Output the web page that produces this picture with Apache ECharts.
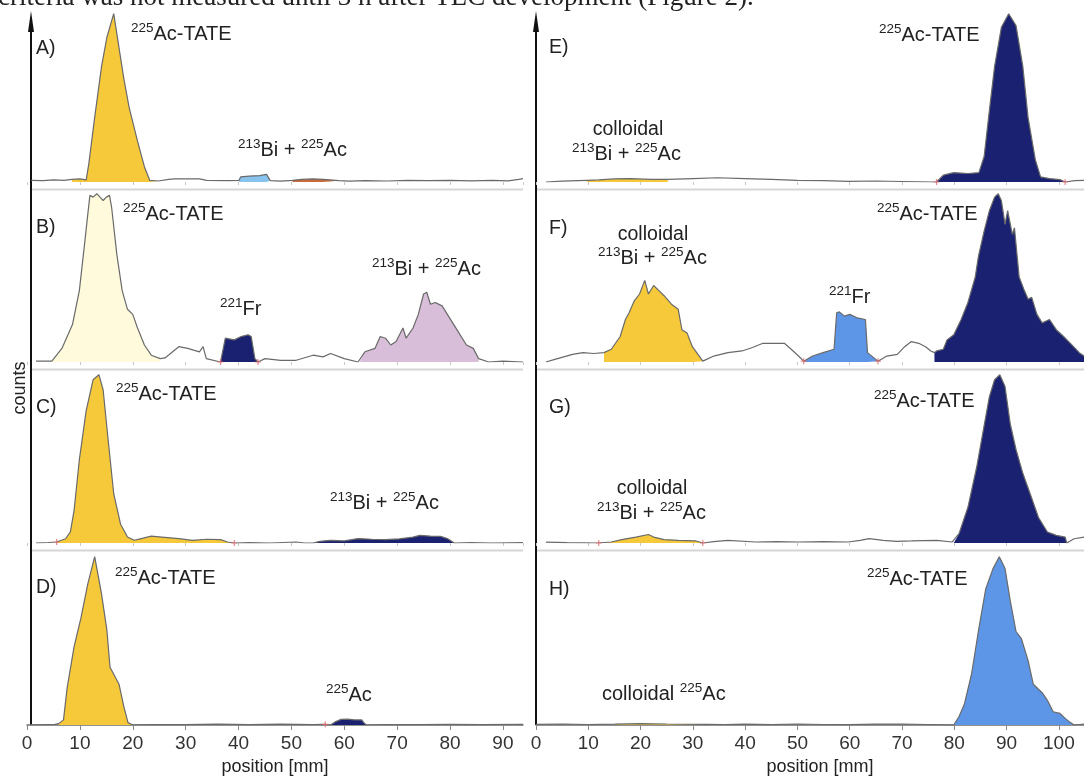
<!DOCTYPE html>
<html>
<head>
<meta charset="utf-8">
<script src="https://cdn.jsdelivr.net/npm/echarts@6.0.0/dist/echarts.min.js"></script>
<style>
html, body { margin: 0; padding: 0; background: #fff; }
#chart { width: 1084px; height: 777px; }
</style>
</head>
<body>
<div id="chart"></div>
<script>
// radio-TLC traces: [position mm, counts (normalised, tallest peak ~ 99)]
var traceA = [[0.8,1],[3,0.8],[5,1.2],[7,1],[8.5,1.5],[10,1.8],[11.2,1.2],[11.7,11],[12.8,38],[14.1,68],[15.1,85],[16.4,99],[17.3,81],[18.3,61],[19.3,44],[20.9,24],[22.2,9],[23.2,1],[24.8,0.6],[26.8,1.5],[28,1.8],[32.6,1.8],[34,1],[38,0.8],[40.1,1],[40.4,3],[42,3.5],[44,3.8],[45.3,4.5],[46,0.8],[48,0.5],[50.2,1],[52,1.5],[54,1.8],[56,1.6],[59,0.8],[61,0.5],[64,0.8],[68,0.6],[72,1],[76,0.8],[80,0.9],[84,0.7],[88,1],[91,0.7],[93,1.5],[93.8,2]];
var traceB = [[1.7,0.5],[4.7,0.5],[6.6,8],[8.6,22],[9.9,42],[10.8,67],[11.5,87],[11.9,98],[12.5,97],[13.2,99],[13.8,97],[14.4,95],[15,97],[15.6,98],[16,91],[17,63],[18,42],[19,31],[20,28],[20.9,20],[22.2,10],[23.5,4],[25.2,2],[26.1,2.4],[28.7,9],[30.4,8],[32.6,6],[33.3,9],[33.9,2],[36.6,0],[37.5,14],[39.2,13],[40.5,15],[41.8,16],[42.4,15],[43.1,2],[43.7,0],[45,2],[48,1],[50.9,1],[54.1,4],[56,3],[57.4,5],[60,2],[62.6,0],[62.9,0],[63.9,6],[65.8,8],[66.8,15],[67.8,14],[68.8,10],[69.8,12],[71.1,20],[71.7,14],[73,20],[74,28],[75,40],[75.6,41],[76.3,34],[77.2,35],[78.5,33],[79.5,28],[81.5,18],[83.1,10],[84.4,8],[85.4,2],[87.3,0],[90,0.5],[93.8,0]];
var traceC = [[1.7,0],[4,0.3],[5.6,0.6],[7.3,2.5],[8.2,6.5],[8.9,19],[9.9,49],[11.2,78],[12.5,96],[13.6,99],[14.4,90],[15.4,59],[16.4,29],[17.7,11],[19,3.5],[20.3,1.6],[21.6,2.6],[23.5,4],[25.5,3.5],[28.7,2.6],[31.3,1.6],[34,2.2],[36.6,2],[37.9,0.6],[39.2,0],[42,0.2],[46,0],[50.9,0.6],[52.5,0],[54.1,0],[55.4,1],[57.4,1.6],[60,1.2],[62.6,2.6],[65.2,2.2],[67.8,2],[70.4,2.4],[73,3.5],[74.3,4.5],[76.3,4],[78.2,3.9],[79.5,2.6],[80.8,0],[84,0.3],[88,0],[93.8,0.2]];
var traceD = [[0.7,0],[5.3,0.4],[6,0.8],[6.9,3],[7.6,22],[8.9,46],[10.2,63],[11.5,83],[12.8,99],[14.1,77],[15.1,56],[15.7,34],[17.4,24],[18.3,11],[19.1,1.4],[20,0],[24,0.3],[30,0.2],[36,0.5],[42,0.2],[48,0.5],[54,0.3],[56.4,0.4],[57.4,0],[58.4,2],[59.4,3.3],[60.6,3.5],[61.9,3],[63.3,3],[63.8,1],[64.2,0],[68,0.3],[74,0.2],[80,0.4],[86,0.2],[93.8,0.4]];
var traceE = [[1.9,0],[5,0.5],[9.7,1],[12,1.2],[15,1.8],[18,2],[22,1.5],[25.2,1.5],[30,2],[34.7,2.5],[40,2],[45,1.5],[50,1],[55,0.8],[59.7,0.4],[65,0.6],[70,0.3],[75.9,0],[76.6,0],[77.9,4],[79.9,5.5],[82.6,5],[84.7,5.5],[85.7,15],[86.7,42],[87.7,68],[89,91],[90.4,99],[91.8,92],[93.1,68],[94.1,38],[95.5,13],[96.5,3],[98.2,2],[100.2,1.4],[101.2,0],[103,0.8],[104.8,1]];
var traceF = [[1.9,0],[3.6,1.5],[7,4.5],[9,5.5],[11,5],[13,5.5],[14.4,7.5],[16.1,15],[17.1,25],[17.8,29],[18.8,36],[19.8,40],[20.8,48],[21.5,40],[22.5,45],[23.5,42],[24.5,39],[25.9,34],[27.2,31],[27.9,19],[28.9,17],[29.9,9],[31.9,0.5],[34,3.5],[36.7,5.5],[39.4,6.5],[41.4,8.5],[43.4,11],[45.5,11],[47.5,11],[48.8,7.5],[50.2,3.5],[51.2,0.5],[52.9,3.5],[54.9,5.5],[57,7.5],[57.5,29],[58,29.5],[59,27],[60,28],[61.4,26],[63,25],[63.4,5.5],[65.4,0.5],[67.1,3.5],[69.1,4.5],[70.5,9],[71.8,12],[73.2,11],[74.5,9],[75.5,6.5],[76.2,5.5],[76.6,6.5],[77.9,7.5],[78.6,13],[79.9,16],[81.3,25],[82.6,35],[84,50],[84.6,62],[85.7,77],[86.7,89],[87.7,97],[88.4,99],[89,95],[89.7,81],[90.2,89],[91.1,75],[91.5,79],[92.4,50],[93.4,42],[94.1,37],[94.8,38],[95.8,28],[96.8,23],[98.2,25],[99.5,19],[100.9,15],[102.2,11],[103.9,5.5],[104.8,3.5]];
var traceG = [[1.9,0.5],[6,0.2],[11.7,0],[12,0],[14.4,0.6],[16.4,2],[19.1,3.5],[21.5,5],[22.5,3.5],[24.5,2],[27.2,1.6],[30.6,1.2],[31.9,0],[34,0.8],[36.7,1.6],[42,0.6],[46,0.8],[50.2,0.6],[55,0.8],[59.7,0.6],[62,1.5],[63.7,2.6],[66.4,1.6],[69,1],[71.8,1.2],[74,1.4],[76.6,1.6],[79.6,0.6],[79.9,0],[80.9,5.5],[82.6,21],[84.3,45],[85.7,69],[86.7,86],[87.7,96],[88.7,99],[89.7,92],[90.7,70],[91.8,55],[93.1,41],[94.5,29],[96.1,15],[97.8,6.5],[99.5,4.5],[101.2,3.5],[101.5,0],[102.9,2.5],[104.8,3.5]];
var traceH = [[0,0.4],[5,0.6],[10,0.3],[15.1,0.5],[20,0.8],[25,0.6],[32.6,0.4],[36,0.3],[40,0.5],[45,0.2],[50,0.6],[55,0.3],[60,0.2],[65,0.5],[70,0.6],[75,0.3],[79.9,0],[80.9,5],[81.9,12],[83.3,30],[84.7,57],[86,80],[87.4,92],[88.6,99],[89.7,92],[90.7,73],[91.8,55],[92.8,51],[94.1,38],[95.1,24],[96.1,21],[96.8,19],[97.8,14.5],[98.9,7.8],[100.2,6.8],[101.2,3.9],[102.2,1.4],[102.9,0],[104,0.3],[104.8,0.5]];

// integrated regions [from mm, to mm]
var bandsA = [[8.5, 24.8], [40.1, 46], [50.2, 59]];
var bandsB = [[4.7, 25.2], [36.6, 43.7], [62.9, 85.4]];
var bandsC = [[5.6, 39.2], [54.1, 80.8]];
var bandsD = [[6, 20], [57.4, 64.2]];
var bandsE = [[9.7, 25.2], [76.6, 101.2]];
var bandsF = [[13, 31.9], [51.2, 65.4], [76.2, 104.8]];
var bandsG = [[12, 31.9], [79.9, 101.5]];
var bandsH = [[15.1, 32.6], [79.9, 102.9]];

// region limits marked with small red crosses (mm)
var cutsA = [];
var cutsB = [36.6, 43.7];
var cutsC = [5.6, 39.2];
var cutsD = [56.4];
var cutsE = [76.6, 101.2];
var cutsF = [51.2, 65.4];
var cutsG = [12, 31.9];
var cutsH = [];

var YELLOW = '#F5C93A', CREAM = '#FFFADB', NAVY = '#1A2170', SKY = '#88C4EE',
    BLUE = '#5D95E7', LILAC = '#D9BED9', RUST = '#C86A3C';
var FONT = '"Liberation Sans", Arial, sans-serif';
var PLUS = 'path://M4,0H6V4H10V6H6V10H4V6H0V4H4Z';

var panels = [
    {trace: traceA, bands: bandsA, cuts: cutsA, fills: [YELLOW, SKY, RUST], base: 182, side: 0},
    {trace: traceB, bands: bandsB, cuts: cutsB, fills: [CREAM, NAVY, LILAC], base: 362, side: 0},
    {trace: traceC, bands: bandsC, cuts: cutsC, fills: [YELLOW, NAVY], base: 543, side: 0},
    {trace: traceD, bands: bandsD, cuts: cutsD, fills: [YELLOW, NAVY], base: 725, side: 0},
    {trace: traceE, bands: bandsE, cuts: cutsE, fills: [YELLOW, NAVY], base: 182, side: 1},
    {trace: traceF, bands: bandsF, cuts: cutsF, fills: [YELLOW, BLUE, NAVY], base: 362, side: 1},
    {trace: traceG, bands: bandsG, cuts: cutsG, fills: [YELLOW, NAVY], base: 543, side: 1},
    {trace: traceH, bands: bandsH, cuts: cutsH, fills: [YELLOW, BLUE], base: 725, side: 1}
];
var sides = [
    {x: 27, w: 496, max: 93.8, axisX: 31, right: 523},
    {x: 536, w: 548, max: 104.8, axisX: 536, right: 1084}
];

var grid = [], xAxis = [], yAxis = [], series = [], graphic = [];

panels.forEach(function (p, i) {
    var s = sides[p.side];
    var last = (i % 4 === 3);
    grid.push({left: s.x, top: p.base - 170, width: s.w, height: 170});
    xAxis.push({
        type: 'value', gridIndex: i, min: 0, max: s.max, interval: 10,
        axisLine: {show: last, lineStyle: {color: '#6f6f6f', width: 1.5}},
        axisTick: {show: true, length: last ? 5 : 3, lineStyle: {color: last ? '#888' : '#c8c8c8'}},
        axisLabel: {show: last, fontSize: 19, color: '#333', fontFamily: FONT, margin: 9, showMaxLabel: false},
        splitLine: {show: false},
        name: last ? 'position [mm]' : '',
        nameLocation: 'middle',
        nameGap: 33,
        nameTextStyle: {fontSize: 18, color: '#222', fontFamily: FONT, padding: p.side ? [0, 0, 0, 20] : 0}
    });
    yAxis.push({type: 'value', gridIndex: i, min: 0, max: 100, show: false});
    p.bands.forEach(function (b, k) {
        series.push({
            type: 'line', xAxisIndex: i, yAxisIndex: i, symbol: 'none', silent: true, z: 2,
            data: p.trace.filter(function (d) { return d[0] >= b[0] && d[0] <= b[1]; }),
            lineStyle: {width: 0},
            areaStyle: {color: p.fills[k], opacity: 1}
        });
    });
    series.push({
        type: 'line', xAxisIndex: i, yAxisIndex: i, symbol: 'none', silent: true, z: 3,
        data: p.trace,
        lineStyle: {color: '#6a6a6a', width: 1.2}
    });
    if (p.cuts.length) {
        series.push({
            type: 'scatter', xAxisIndex: i, yAxisIndex: i, silent: true, z: 4,
            symbol: PLUS, symbolSize: 6,
            itemStyle: {color: '#e06a70'},
            data: p.trace.filter(function (d) { return p.cuts.indexOf(d[0]) >= 0; })
        });
    }
    if (!last) {
        graphic.push({type: 'line', silent: true,
            shape: {x1: s.axisX, y1: p.base + 7.5, x2: s.right, y2: p.base + 7.5},
            style: {stroke: '#d6d6d6', lineWidth: 2}});
    }
});

// vertical axes with arrow heads
sides.forEach(function (s) {
    graphic.push({type: 'line', silent: true, shape: {x1: s.axisX, y1: 22, x2: s.axisX, y2: 725},
        style: {stroke: '#111', lineWidth: 2}});
    graphic.push({type: 'polygon', silent: true,
        shape: {points: [[s.axisX - 3, 32], [s.axisX, 11], [s.axisX + 3, 32]]},
        style: {fill: '#111'}});
});

var RICH = {
    s: {fontSize: 13.5, fontFamily: FONT, fill: '#222', lineHeight: 15, verticalAlign: 'top'},
    n: {fontSize: 20, fontFamily: FONT, fill: '#222', lineHeight: 23, verticalAlign: 'bottom'}
};
function txt(x, y, t, align) {
    return {type: 'text', x: x, y: y, silent: true, z: 10,
        style: {text: t, align: align || 'left', verticalAlign: 'middle', rich: RICH,
            fontSize: 19.5, fontFamily: FONT, fill: '#222'}};
}
var TATE = '{s|225}{n|Ac-TATE}', BIAC = '{s|213}{n|Bi + }{s|225}{n|Ac}',
    FR = '{s|221}{n|Fr}', AC = '{s|225}{n|Ac}';

graphic.push(
    txt(36, 49, 'A)'), txt(131, 33, TATE), txt(238, 149, BIAC),
    txt(36, 228, 'B)'), txt(123, 213, TATE), txt(220, 308, FR), txt(372, 268, BIAC),
    txt(36, 408, 'C)'), txt(116, 393, TATE), txt(330, 502, BIAC),
    txt(36, 588, 'D)'), txt(115, 577, TATE), txt(326, 694, AC),
    txt(549, 48, 'E)'), txt(879, 34, TATE), txt(628, 130, 'colloidal', 'center'), txt(572, 153, BIAC),
    txt(549, 229, 'F)'), txt(877, 213, TATE), txt(653, 235, 'colloidal', 'center'), txt(598, 257, BIAC), txt(829, 296, FR),
    txt(549, 408, 'G)'), txt(874, 400, TATE), txt(652, 489, 'colloidal', 'center'), txt(597, 512, BIAC),
    txt(549, 590, 'H)'), txt(867, 578, TATE), txt(602, 693, '{n|colloidal }' + AC)
);
graphic.push({type: 'text', x: 20, y: 388, rotation: Math.PI / 2, silent: true,
    style: {text: 'counts', align: 'center', verticalAlign: 'middle', fontSize: 18, fontFamily: FONT, fill: '#222'}});
graphic.push({type: 'text', x: -2, y: 11, silent: true,
    style: {text: 'criteria was not measured until 3 h after TLC development (Figure 2).',
        align: 'left', verticalAlign: 'bottom', fontSize: 27, fontFamily: '"Liberation Serif", serif', fill: '#222'}});

var chart = echarts.init(document.getElementById('chart'));
chart.setOption({
    animation: false,
    grid: grid,
    xAxis: xAxis,
    yAxis: yAxis,
    series: series,
    graphic: graphic
});
</script>
</body>
</html>
